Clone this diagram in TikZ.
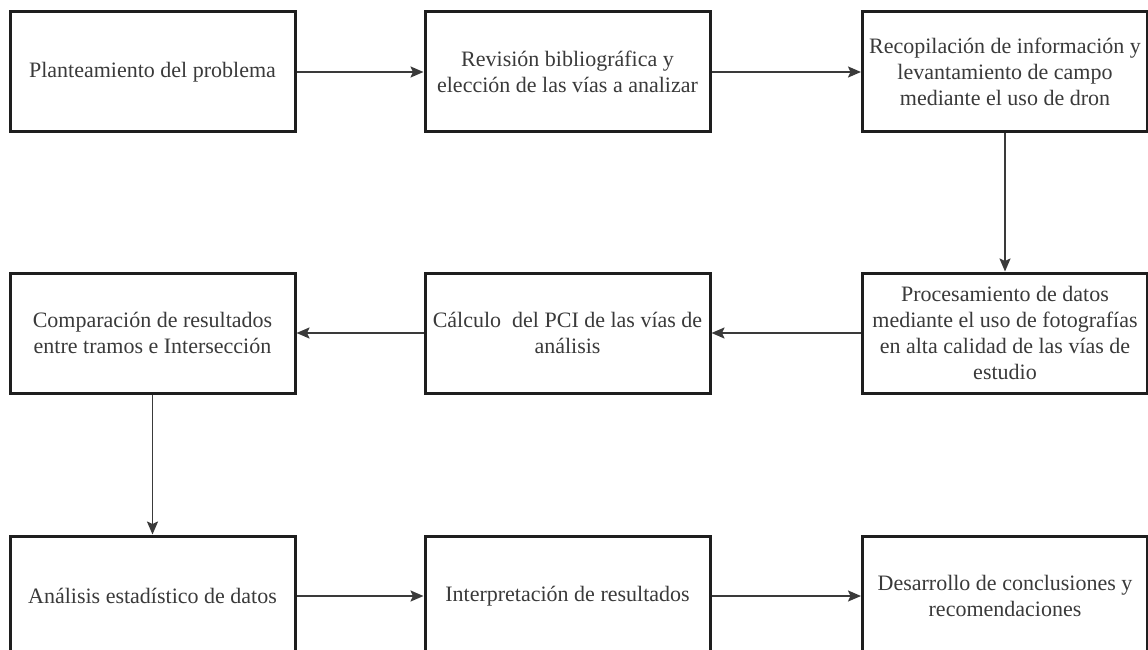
\documentclass[tikz,border=0pt]{standalone}
\usepackage{fontspec}
\setmainfont{Liberation Serif}
\usetikzlibrary{arrows.meta}
\definecolor{boxline}{HTML}{1E1E1E}
\definecolor{txt}{HTML}{3A3A3A}
\definecolor{arr}{HTML}{3A3A3A}
\tikzset{
  stepbox/.style={draw=boxline, line width=3pt, minimum width=285pt, minimum height=120pt,
    inner sep=0pt, align=center, text=txt, font=\fontsize{22}{26}\selectfont},
  flow/.style={draw=arr, line width=1.8pt, -{Stealth[length=13pt,width=11pt,inset=2.5pt]}}
}
\begin{document}
\begin{tikzpicture}[x=1pt,y=1pt]
\useasboundingbox (0,0) rectangle (1148,-650);
\clip (0,0) rectangle (1148,-650);
\fill[white] (0,0) rectangle (1148,-650);
\node[stepbox] (b1) at (152.5,-72) {Planteamiento del problema};
\node[stepbox] (b2) at (567.5,-72) {Revisión bibliográfica y\\elección de las vías a analizar};
\node[stepbox] (b3) at (1005,-72) {Recopilación de información y\\levantamiento de campo\\mediante el uso de dron};
\node[stepbox] (b4) at (152.5,-333) {Comparación de resultados\\entre tramos e Intersección};
\node[stepbox] (b5) at (567.5,-333) {Cálculo\ \ del PCI de las vías de\\análisis};
\node[stepbox] (b6) at (1005,-333) {Procesamiento de datos\\mediante el uso de fotografías\\en alta calidad de las vías de\\estudio};
\node[stepbox] (b7) at (152.5,-596) {Análisis estadístico de datos};
\node[stepbox] (b8) at (567.5,-596) {Interpretación de resultados};
\node[stepbox] (b9) at (1005,-596) {Desarrollo de conclusiones y\\recomendaciones};
\draw[flow] (b1.east) -- (b2.west);
\draw[flow] (b2.east) -- (b3.west);
\draw[flow] (b3.south) -- (b6.north);
\draw[flow] (b6.west) -- (b5.east);
\draw[flow] (b5.west) -- (b4.east);
\draw[flow] (b4.south) -- (b7.north);
\draw[flow] (b7.east) -- (b8.west);
\draw[flow] (b8.east) -- (b9.west);
\end{tikzpicture}
\end{document}
